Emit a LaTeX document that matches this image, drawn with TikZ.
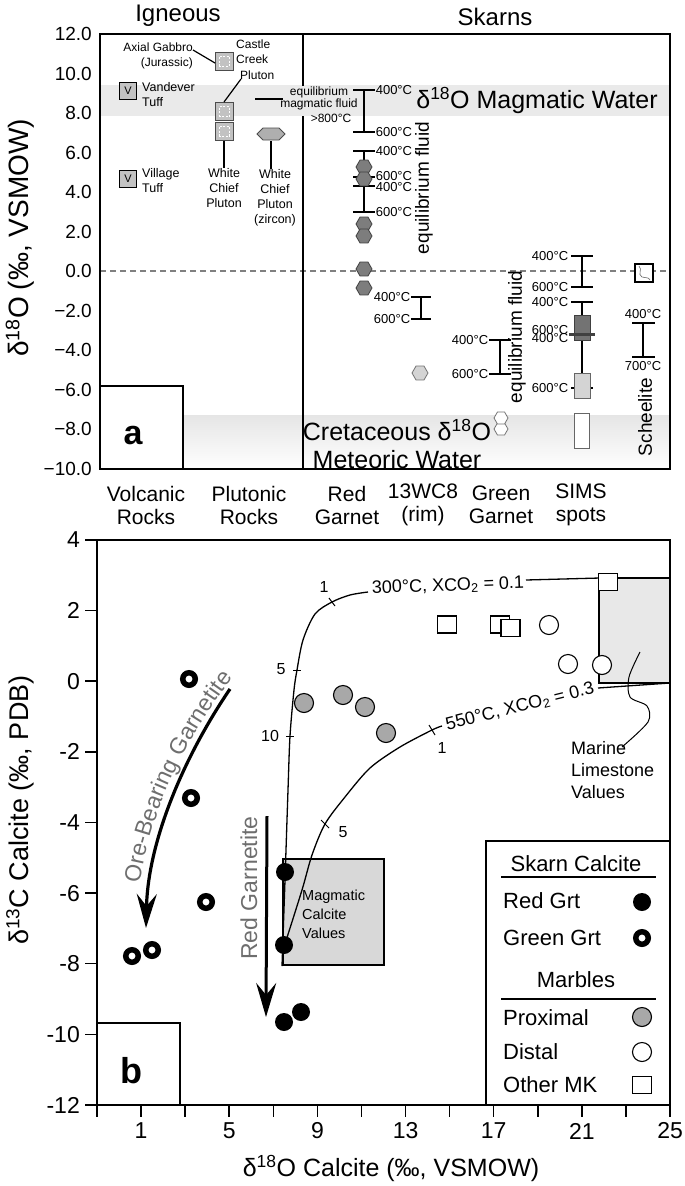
\documentclass[tikz,border=0pt]{standalone}
\usepackage{fontspec}
\setmainfont{Liberation Sans}
\usetikzlibrary{shapes.geometric,arrows.meta,decorations.text}
\newcommand\fsz[1]{\fontsize{#1}{#1}\selectfont}
\newcommand\fsb[2]{\fontsize{#1}{#2}\selectfont}
\definecolor{bandgray}{HTML}{EAEAEA}
\definecolor{hexdark}{HTML}{7D7D7D}
\definecolor{hexlight}{HTML}{D4D4D4}
\definecolor{txtgray}{HTML}{6E6E6E}
\definecolor{granite}{HTML}{C2C2C2}
\definecolor{proxgray}{HTML}{A8A8A8}
\definecolor{magbox}{HTML}{D8D8D8}
\definecolor{marbox}{HTML}{E8E8E8}
\tikzset{
 hexR/.style={regular polygon, regular polygon sides=6, minimum size=16pt, inner sep=0pt, draw=black!75, fill=hexdark, line width=0.8pt},
 hexL/.style={hexR, fill=hexlight, draw=black!55},
 hexG/.style={hexR, fill=white, draw=black!55, minimum size=14pt},
 vsq/.style={rectangle, minimum size=17pt, inner sep=0pt, fill=granite, draw=black, line width=1pt, font=\fsz{11}},
 gsq/.style={rectangle, minimum size=18pt, inner sep=0pt, fill=granite, draw=black!70, line width=1pt,
   path picture={\draw[white, line width=0.7pt, dash pattern=on 2pt off 1.5pt]
     ([xshift=4pt,yshift=4pt]path picture bounding box.south west) rectangle
     ([xshift=-4pt,yshift=-4pt]path picture bounding box.north east);}},
 lbl/.style={font=\fsb{12.5}{15}, inner sep=0pt},
 tlab/.style={font=\fsz{13}, inner sep=0.6pt},
 errbar/.style={line width=1.4pt},
 rgrt/.style={circle, fill=black, minimum size=18pt, inner sep=0pt},
 ggrt/.style={circle, draw=black, line width=5.5pt, minimum size=12.5pt, inner sep=0pt, fill=white},
 prox/.style={circle, fill=proxgray, draw=black, line width=1.1pt, minimum size=19pt, inner sep=0pt},
 dist/.style={circle, fill=white, draw=black, line width=1.1pt, minimum size=19pt, inner sep=0pt},
 omk/.style={rectangle, fill=white, draw=black, line width=1.1pt, minimum width=19pt, minimum height=17pt, inner sep=0pt},
 curve/.style={line width=1.3pt},
 bigarrow/.style={-{Stealth[length=34pt,width=20pt,inset=12pt]}},
}
\begin{document}
\begin{tikzpicture}[x=1pt,y=-1pt]
\useasboundingbox (0,0) rectangle (685,1186);
\fill[white] (0,0) rectangle (685,1186);

% ================= PANEL A =================
\fill[bandgray] (100,85) rectangle (670,116);
\shade[top color=black!10, bottom color=white] (183,415) rectangle (670,469);
\draw[gray, line width=1.3pt, dash pattern=on 6pt off 4pt] (100,271) -- (670,271);
\draw[line width=1.2pt, fill=white] (100,386) rectangle (183,469);
\node[font=\bfseries\fsz{34}] (la) at (133,436) {a};
\draw[line width=2.5pt] (100,34) rectangle (670,469);
\draw[line width=2.5pt] (303,34) -- (303,86);
\draw[line width=2.5pt] (303,116) -- (303,469);

\node[font=\fsz{24}] (hig) at (178,16) {Igneous};
\node[font=\fsz{24}] (hsk) at (495,17) {Skarns};
\node[rotate=90, font=\fsz{28}] (yta) at (20,238) {δ\textsuperscript{18}O\hspace{7pt}(‰, VSMOW)};

\foreach \v/\t in {12/12.0,10/10.0,8/8.0,6/6.0,4/4.0,2/2.0,0/0.0,-2/−2.0,-4/−4.0,-6/−6.0,-8/−8.0,-10/−10.0}
  \node[anchor=east, font=\fsz{19}, inner sep=0pt] (ya\v) at (92,{34+(12-\v)*19.77}) {\t};

\node[font=\fsz{25}] (mw) at (537,100) {δ\textsuperscript{18}O Magmatic Water};
\node[font=\fsb{25}{28}, align=center] (cmw) at (397,444) {Cretaceous δ\textsuperscript{18}O\\Meteoric Water};

% igneous
\node[vsq] (vand) at (128,91) {V};
\node[vsq] (vill) at (128,179) {V};
\node[lbl, anchor=west, align=left] (vandt) at (142,94.5) {Vandever\\Tuff};
\node[lbl, anchor=west, align=left] (villt) at (142,180.5) {Village\\Tuff};
\node[gsq] (cc) at (224,61) {};
\node[gsq] (wc1) at (224,111.5) {};
\node[gsq] (wc2) at (224,131) {};
\node[lbl, anchor=east, align=right, font=\fsb{12}{15}] (gab) at (193,55.5) {Axial Gabbro\\(Jurassic)};
\coordinate (gabe) at (193,50);
\coordinate (cce) at (215,63);
\draw[line width=1.2pt] (gabe) -- (cce);
\node[lbl, anchor=west, align=left, font=\fsb{12}{15.5}] (cct) at (236,59.5) {Castle\\Creek\\\hspace{4pt}Pluton};
\coordinate (cctl) at (241,79);
\draw[line width=1.2pt] (cctl) -- (wc1.north);
\node[lbl, align=center] (wct) at (224,188) {White\\Chief\\Pluton};
\draw[line width=1.2pt] (wc2.south) -- (wct.north);
\draw[fill=granite!90!black, draw=black!70, line width=0.9pt] (257,134) -- (263,128) -- (279,128) -- (285,134) -- (279,140) -- (263,140) -- cycle;
\coordinate (zr) at (271,141);
\node[lbl, align=center] (zrt) at (275,198) {White\\Chief\\Pluton\\(zircon)};
\draw[line width=1.2pt] (zr) -- (zrt.north -| zr);
\draw[line width=2pt] (255,99) -- (283,99);
\node[font=\fsb{12}{11.5}, align=center, inner sep=0pt] (eqm) at (319,98.5) {equilibrium\\magmatic fluid};
\node[font=\fsz{12}, inner sep=0pt] (eqm2) at (331,118) {>800°C};

% red garnet bars
\draw[errbar] (364,90) -- (364,132);
\foreach \y in {90,132} \draw[errbar] (353,\y) -- (375,\y);
\node[tlab, anchor=west] (ra1) at (375,90) {400°C};
\node[tlab, anchor=west] (ra2) at (375,132) {600°C};
\draw[errbar] (364,151) -- (364,212);
\foreach \y in {151,177,186,212} \draw[errbar] (353,\y) -- (375,\y);
\node[tlab, anchor=west] (rb1) at (375,151) {400°C};
\node[tlab, anchor=west] (rb2) at (375,176) {600°C};
\node[tlab, anchor=west] (rb3) at (375,187) {400°C};
\node[tlab, anchor=west] (rb4) at (375,212) {600°C};
\foreach \y [count=\i] in {167,179,224,236,269,288} \node[hexR] (rh\i) at (364,\y) {};
\node[rotate=90, font=\fsz{19}] (eqf1) at (424,188) {equilibrium fluid};
\draw[errbar] (421,297) -- (421,319);
\foreach \y in {297,319} \draw[errbar] (411,\y) -- (431,\y);
\node[tlab, anchor=east] (rc1) at (411,297) {400°C};
\node[tlab, anchor=east] (rc2) at (411,319) {600°C};
\node[hexL] (wch) at (420,373) {};

% green garnet
\draw[errbar] (500,340) -- (500,374);
\foreach \y in {340,374} \draw[errbar] (489,\y) -- (511,\y);
\node[tlab, anchor=east] (gg1) at (489,340) {400°C};
\node[tlab, anchor=east] (gg2) at (489,374) {600°C};
\node[hexG] (gh2) at (501,429) {};
\node[hexG] (gh1) at (501,418) {};
\node[rotate=90, font=\fsz{19}] (eqf2) at (517,337) {equilibrium fluid};

% SIMS
\draw[errbar] (582,256) -- (582,287);
\draw[errbar] (582,302) -- (582,388);
\foreach \y in {256,287,302,388} \draw[errbar] (571,\y) -- (593,\y);
\node[tlab, anchor=east] (s1) at (569,256) {400°C};
\node[tlab, anchor=east] (s2) at (569,287) {600°C};
\node[tlab, anchor=east] (s3) at (569,302) {400°C};
\node[tlab, anchor=east] (s4) at (569,330) {600°C};
\node[tlab, anchor=east] (s5) at (569,338) {400°C};
\node[tlab, anchor=east] (s6) at (569,388) {600°C};
\draw[fill=black!55, draw=black!75, line width=0.9pt] (574,315) rectangle (590,340);
\draw[fill=hexlight, draw=black!60, line width=0.9pt] (574,373) rectangle (590,398);
\draw[fill=white, draw=black!60, line width=0.9pt] (574,413) rectangle (589,448);
\draw[line width=2.6pt, black!75] (569,334.5) -- (595,334.5);

% scheelite
\node[draw, line width=1.5pt, fill=white, minimum size=18pt, inner sep=0pt] (sch) at (644,273) {};
\draw[black!60, line width=0.6pt] (639,266) .. controls (643,270) and (637,274) .. (642,277) .. controls (645,279) and (648,276) .. (650,280);
\draw[errbar] (643,323) -- (643,357);
\foreach \y in {323,357} \draw[errbar] (632,\y) -- (655,\y);
\node[tlab] (sc1) at (643,314) {400°C};
\node[tlab] (sc2) at (643,366) {700°C};
\node[rotate=90, font=\fsz{19}] (scht) at (645,417) {Scheelite};

% x labels panel a
\foreach \x/\t [count=\i] in {146/Volcanic\\Rocks,249/Plutonic\\Rocks,347/Red\\Garnet,423/13WC8\\(rim),501/Green\\Garnet,581/SIMS\\spots}
  \node[font=\fsb{21}{23}, align=center, inner sep=0pt] (xa\i) at (\x,505) {\t};

% ================= PANEL B =================
\draw[line width=1.2pt, fill=white] (97,1023) rectangle (180,1105);
\node[font=\bfseries\fsz{36}] (lb) at (131,1071) {b};
\draw[fill=marbox, draw=black, line width=1.2pt] (599,578) rectangle (670,683);
\draw[fill=magbox, draw=black, line width=1.1pt] (283,859) rectangle (384,965);
\node[font=\fsb{14.5}{19}, align=left, anchor=west, inner sep=0pt] (magt) at (302,914) {Magmatic\\Calcite\\Values};
\node[font=\fsb{18}{22}, align=left, anchor=west, inner sep=0pt] (mart) at (571,770) {Marine\\Limestone\\Values};
\draw[line width=1pt] plot[smooth] coordinates {(622,747) (648,722) (647,706) (630,697) (629,677) (640,652)};

\draw[line width=2.2pt] (97,540) rectangle (670,1105);
\foreach \v in {4,2,...,-12} {
  \draw[line width=1.5pt] (85,{540+(4-\v)*35.31}) -- (97,{540+(4-\v)*35.31});
  \node[anchor=east, font=\fsz{23}, inner sep=0pt] (yb\v) at (80,{540+(4-\v)*35.31}) {\v};
}
\foreach \v in {-1,1,...,25} \draw[line width=1.5pt] ({97+(\v+1)*22.04},1105) -- ({97+(\v+1)*22.04},1117);
\foreach \v in {1,5,...,25} \node[font=\fsz{23}, inner sep=0pt] (xb\v) at ({97+(\v+1)*22.04},1131) {\v};
\node[rotate=90, font=\fsz{27}] (ytb) at (20,810) {δ\textsuperscript{13}C Calcite (‰, PDB)};
\node[font=\fsz{25}] (xtb) at (391,1168) {δ\textsuperscript{18}O Calcite (‰, VSMOW)};

% curves
\draw[curve] plot[smooth] coordinates {(282,966) (285,880) (288,790) (290,736) (294,690) (297,670) (303,640) (315,614) (332,602) (350,595) (368,592)};
\node[font=\fsz{18}, rotate=2] (c300) at (448,586) {300°C, XCO\textsubscript{2} = 0.1};
\coordinate (c300e) at (526,580);
\coordinate (mkc) at (600,578);
\draw[curve] (c300e) -- (mkc);
\draw[line width=1pt] (293,670) -- (301,670);
\draw[line width=1pt] (286,736) -- (294,736);
\draw[line width=1pt] (329,598) -- (335,606);
\node[font=\fsz{16}] (t1a) at (324,587) {1};
\node[font=\fsz{16}] (t5a) at (281,669) {5};
\node[font=\fsz{16}] (t10a) at (270,736) {10};
\draw[curve] plot[smooth] coordinates {(284,947) (302,890) (312,855) (325,824) (345,797) (370,768) (400,747) (432,730) (442,726)};
\node[font=\fsz{18}, rotate=14] (c550) at (520,707) {550°C, XCO\textsubscript{2} = 0.3};
\coordinate (c550e) at (598,688);
\coordinate (mkb) at (670,683);
\draw[curve] (c550e) -- (mkb);
\draw[line width=1pt] (321,820) -- (329,828);
\draw[line width=1pt] (429,725) -- (435,735);
\node[font=\fsz{16}] (t5b) at (343,832) {5};
\node[font=\fsz{16}] (t1b) at (442,748) {1};

% arrows
\draw[line width=3.2pt, bigarrow] (230,689) .. controls (185,755) and (148,840) .. (146,928);
\path[decorate, decoration={text along path, text align=right, raise=4pt,
   text={|\fsz{23}\color{txtgray}|Ore-Bearing Garnetite}}]
   (140,925) .. controls (142,835) and (183,750) .. (236,680);
\draw[line width=3pt, bigarrow] (267,816) -- (266,1017);
\node[rotate=90, font=\fsz{23}, text=txtgray] (rgt) at (249,888) {Red Garnetite};

% data
\node[ggrt] (g1) at (189,679) {};
\node[ggrt] (g2) at (191,798) {};
\node[ggrt] (g3) at (206,902) {};
\node[ggrt] (g4) at (132,956) {};
\node[ggrt] (g5) at (152,950) {};
\node[rgrt] (r1) at (285,872) {};
\node[rgrt] (r2) at (284,945) {};
\node[rgrt] (r3) at (284,1022) {};
\node[rgrt] (r4) at (301,1012) {};
\node[prox] (p1) at (304,703) {};
\node[prox] (p2) at (343,695) {};
\node[prox] (p3) at (365,707) {};
\node[prox] (p4) at (386,733) {};
\node[dist] (d1) at (549,625) {};
\node[dist] (d2) at (568,664) {};
\node[dist] (d3) at (602,665) {};
\node[omk] (o1) at (608,582) {};
\node[omk] (o2) at (447,624.5) {};
\node[omk] (o3) at (500,624.5) {};
\node[omk] (o4) at (510.5,628) {};

% legend
\draw[fill=white, line width=1.5pt] (486,841) rectangle (670,1105);
\node[font=\fsz{22}] (lsk) at (576,864) {Skarn Calcite};
\draw[line width=1.3pt] (501,877) -- (656,877);
\node[font=\fsz{22}, anchor=west, inner sep=0pt] (lrg) at (503,901) {Red Grt};
\node[rgrt] (lrgs) at (642,902) {};
\node[font=\fsz{22}, anchor=west, inner sep=0pt] (lgg) at (503,938) {Green Grt};
\node[ggrt] (lggs) at (642,938) {};
\node[font=\fsz{22}] (lmb) at (576,980) {Marbles};
\draw[line width=1.3pt] (501,999) -- (656,999);
\node[font=\fsz{22}, anchor=west, inner sep=0pt] (lpr) at (503,1018) {Proximal};
\node[prox] (lprs) at (642,1017) {};
\node[font=\fsz{22}, anchor=west, inner sep=0pt] (lds) at (503,1052) {Distal};
\node[dist] (ldss) at (642,1052) {};
\node[font=\fsz{22}, anchor=west, inner sep=0pt] (lom) at (503,1085) {Other MK};
\node[omk] (loms) at (642,1085) {};
\end{tikzpicture}
\end{document}
